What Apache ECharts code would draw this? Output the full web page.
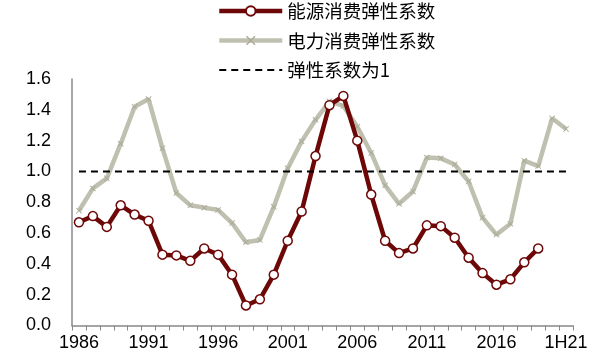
<!DOCTYPE html>
<html>
<head>
<meta charset="utf-8">
<script src="https://cdn.jsdelivr.net/npm/echarts@6/dist/echarts.min.js"></script>
<style>html,body{margin:0;padding:0;background:#fff}#c{width:601px;height:361px}</style>
</head>
<body>
<div id="c"></div>
<script>
var categories = ['1986','1987','1988','1989','1990','1991','1992','1993','1994','1995','1996','1997','1998','1999','2000','2001','2002','2003','2004','2005','2006','2007','2008','2009','2010','2011','2012','2013','2014','2015','2016','2017','2018','2019','2020','1H21'];
var energyElasticity = [0.67,0.71,0.64,0.78,0.72,0.68,0.46,0.455,0.42,0.50,0.46,0.33,0.13,0.17,0.33,0.55,0.74,1.10,1.43,1.49,1.20,0.85,0.55,0.47,0.50,0.65,0.645,0.57,0.44,0.34,0.265,0.30,0.41,0.50,null,null];
var powerElasticity = [0.745,0.89,0.955,1.18,1.42,1.47,1.15,0.86,0.78,0.765,0.75,0.665,0.54,0.555,0.77,1.02,1.195,1.335,1.455,1.425,1.29,1.12,0.91,0.79,0.87,1.09,1.085,1.045,0.935,0.70,0.59,0.66,1.07,1.035,1.345,1.275];
var unitLine = [1,1,1,1,1,1,1,1,1,1,1,1,1,1,1,1,1,1,1,1,1,1,1,1,1,1,1,1,1,1,1,1,1,1,1,1];
var yTicks = {min:0, max:1.6, interval:0.2};
var seriesNames = ['能源消费弹性系数','电力消费弹性系数','弹性系数为1'];

var chart = echarts.init(document.getElementById('c'), null, {renderer:'canvas'});
var xSym = 'path://M0,1L1,0L5,4L9,0L10,1L6,5L10,9L9,10L5,6L1,10L0,9L4,5Z';
chart.setOption({
  animation:false,
  backgroundColor:'#fff',
  legend:{
    orient:'vertical', left:212, top:-4,
    itemWidth:63, itemHeight:12, itemGap:9.5,
    data:[
      {name:seriesNames[0], lineStyle:{width:4.5}},
      {name:seriesNames[1], lineStyle:{width:4.5}},
      {name:seriesNames[2], lineStyle:{width:2}, itemStyle:{opacity:0}}
    ],
    textStyle:{fontFamily:'Noto Sans CJK SC', fontSize:18.5, color:'#000', lineHeight:20}
  },
  grid:{left:72, right:28, top:79, bottom:35.5, containLabel:false},
  xAxis:{
    type:'category', data:categories, boundaryGap:true,
    axisLine:{lineStyle:{color:'#888', width:1.5}},
    axisTick:{show:true, length:5, lineStyle:{color:'#888'}, interval:0},
    axisLabel:{interval:4, color:'#000', fontFamily:'Liberation Sans', fontSize:18, margin:9}
  },
  yAxis:{
    type:'value', min:yTicks.min, max:yTicks.max, interval:yTicks.interval,
    axisLine:{show:true, lineStyle:{color:'#888', width:1.5}},
    axisTick:{show:false},
    splitLine:{show:false},
    axisLabel:{color:'#000', fontFamily:'Liberation Sans', fontSize:18, margin:21,
      formatter:function(v){return v.toFixed(1);}}
  },
  series:[
    {name:seriesNames[1], type:'line', data:powerElasticity, z:2,
     lineStyle:{color:'#c0c0b0', width:4.5}, itemStyle:{color:'#a9a996'},
     symbol:xSym, symbolSize:6, showSymbol:true, smooth:false},
    {name:seriesNames[0], type:'line', data:energyElasticity, z:3,
     lineStyle:{color:'#6e0808', width:4.5},
     itemStyle:{color:'#fff', borderColor:'#6e0808', borderWidth:1.5},
     symbol:'circle', symbolSize:9, showSymbol:true},
    {name:seriesNames[2], type:'line', data:unitLine, z:4,
     lineStyle:{color:'#000', width:2, type:[7,5]}, itemStyle:{color:'#000'},
     symbol:'none'}
  ]
});
</script>
</body>
</html>
